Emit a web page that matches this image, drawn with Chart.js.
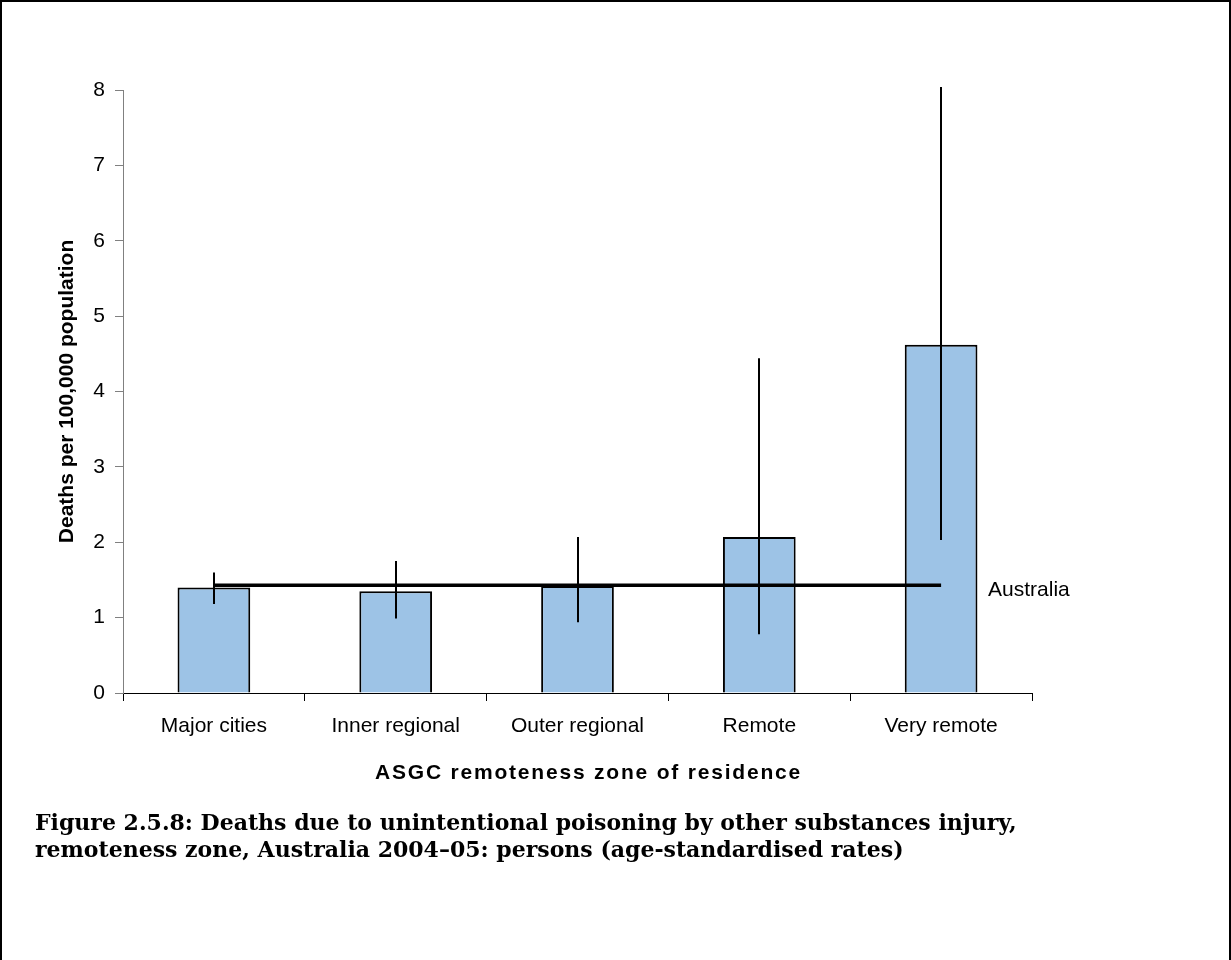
<!DOCTYPE html>
<html>
<head>
<meta charset="utf-8">
<script src="https://cdn.jsdelivr.net/npm/chart.js@4.4.1/dist/chart.umd.min.js"></script>
<style>
  html, body { margin: 0; padding: 0; background: #fff; }
  #frame { position: absolute; left: 0; top: 0; width: 1227px; height: 970px; border: 2px solid #000; }
  #wrap { position: absolute; left: 0; top: 0; width: 1231px; height: 960px; }
  #caption { position: absolute; left: 35px; top: 809px; font-family: "DejaVu Serif", "Liberation Serif", serif; font-weight: bold; font-size: 22px; line-height: 27px; color: #000; white-space: nowrap; }
</style>
</head>
<body>
<div id="frame"></div>
<div id="wrap"><canvas id="c"></canvas></div>
<div id="caption">Figure 2.5.8: Deaths due to unintentional poisoning by other substances injury,<br>remoteness zone, Australia 2004–05: persons (age-standardised rates)</div>
<script>
const categories = ["Major cities", "Inner regional", "Outer regional", "Remote", "Very remote"];
const rates = [1.40, 1.35, 1.42, 2.07, 4.62];
const ciLower = [1.18, 0.99, 0.94, 0.78, 2.03];
const ciUpper = [1.60, 1.75, 2.07, 4.44, 8.04];
const australiaRate = 1.43;
const australiaLine = [australiaRate, australiaRate, australiaRate, australiaRate, australiaRate];
const yTicks = [0, 1, 2, 3, 4, 5, 6, 7, 8];
const yTitle = "Deaths per 100,000 population";
const xTitle = "ASGC remoteness zone of residence";
const lineLabel = "Australia";

const FONT = "'Liberation Sans', Arial, sans-serif";
const FS = 21;

const extras = {
  id: 'extras',
  afterDatasetsDraw(chart) {
    const ctx = chart.ctx;
    const xs = chart.scales.x, ys = chart.scales.y;
    ctx.save();
    // error bars
    ctx.strokeStyle = '#000';
    ctx.lineWidth = 2;
    for (let i = 0; i < categories.length; i++) {
      const x = Math.round(xs.getPixelForValue(i));
      ctx.beginPath();
      ctx.moveTo(x, ys.getPixelForValue(ciLower[i]));
      ctx.lineTo(x, ys.getPixelForValue(ciUpper[i]));
      ctx.stroke();
    }
    // Australia label
    ctx.fillStyle = '#000';
    ctx.font = FS + "px " + FONT;
    ctx.textAlign = 'left';
    ctx.textBaseline = 'middle';
    const last = categories.length - 1;
    ctx.fillText(lineLabel, xs.getPixelForValue(last) + 47, ys.getPixelForValue(australiaRate) + 5);
    // x title with letter spacing
    ctx.font = "bold " + FS + "px " + FONT;
    ctx.textAlign = 'center';
    try { ctx.letterSpacing = '1.8px'; } catch (e) {}
    ctx.fillText(xTitle, (chart.chartArea.left + chart.chartArea.right) / 2 + 11, chart.chartArea.bottom + 80);
    ctx.restore();
  }
};

new Chart(document.getElementById('c'), {
  data: {
    labels: categories,
    datasets: [
      {
        type: 'line',
        label: lineLabel,
        data: australiaLine,
        borderColor: '#000',
        borderWidth: 3.5,
        pointRadius: 0,
        fill: false,
        order: 1
      },
      {
        type: 'bar',
        label: 'Rate',
        data: rates,
        backgroundColor: '#9dc3e6',
        borderColor: '#000',
        borderWidth: 2,
        barPercentage: 0.4,
        categoryPercentage: 1.0,
        order: 2
      }
    ]
  },
  options: {
    responsive: true,
    maintainAspectRatio: false,
    animation: false,
    events: [],
    layout: { padding: { left: 55, top: 90, right: 199, bottom: 177 } },
    plugins: { legend: { display: false }, tooltip: { enabled: false } },
    scales: {
      x: {
        type: 'category',
        offset: true,
        grid: { offset: true, drawOnChartArea: false, color: '#000', tickLength: 8, lineWidth: 1 },
        border: { color: '#000', width: 1 },
        ticks: { color: '#000', font: { family: FONT, size: FS }, padding: 13, maxRotation: 0, autoSkip: false },
        title: { display: false },
        afterFit(scale) { scale.height = 90; }
      },
      y: {
        min: 0,
        max: 8,
        afterBuildTicks(scale) { scale.ticks = yTicks.map(v => ({ value: v })); },
        grid: { drawOnChartArea: false, color: '#808080', tickLength: 8 },
        border: { color: '#808080', width: 1 },
        ticks: { color: '#000', font: { family: FONT, size: FS }, padding: 10 },
        title: { display: true, text: yTitle, color: '#000', font: { family: FONT, size: FS, weight: 'bold' }, padding: 0 },
        afterFit(scale) { scale.width = 68; }
      }
    }
  },
  plugins: [extras]
});
</script>
</body>
</html>
